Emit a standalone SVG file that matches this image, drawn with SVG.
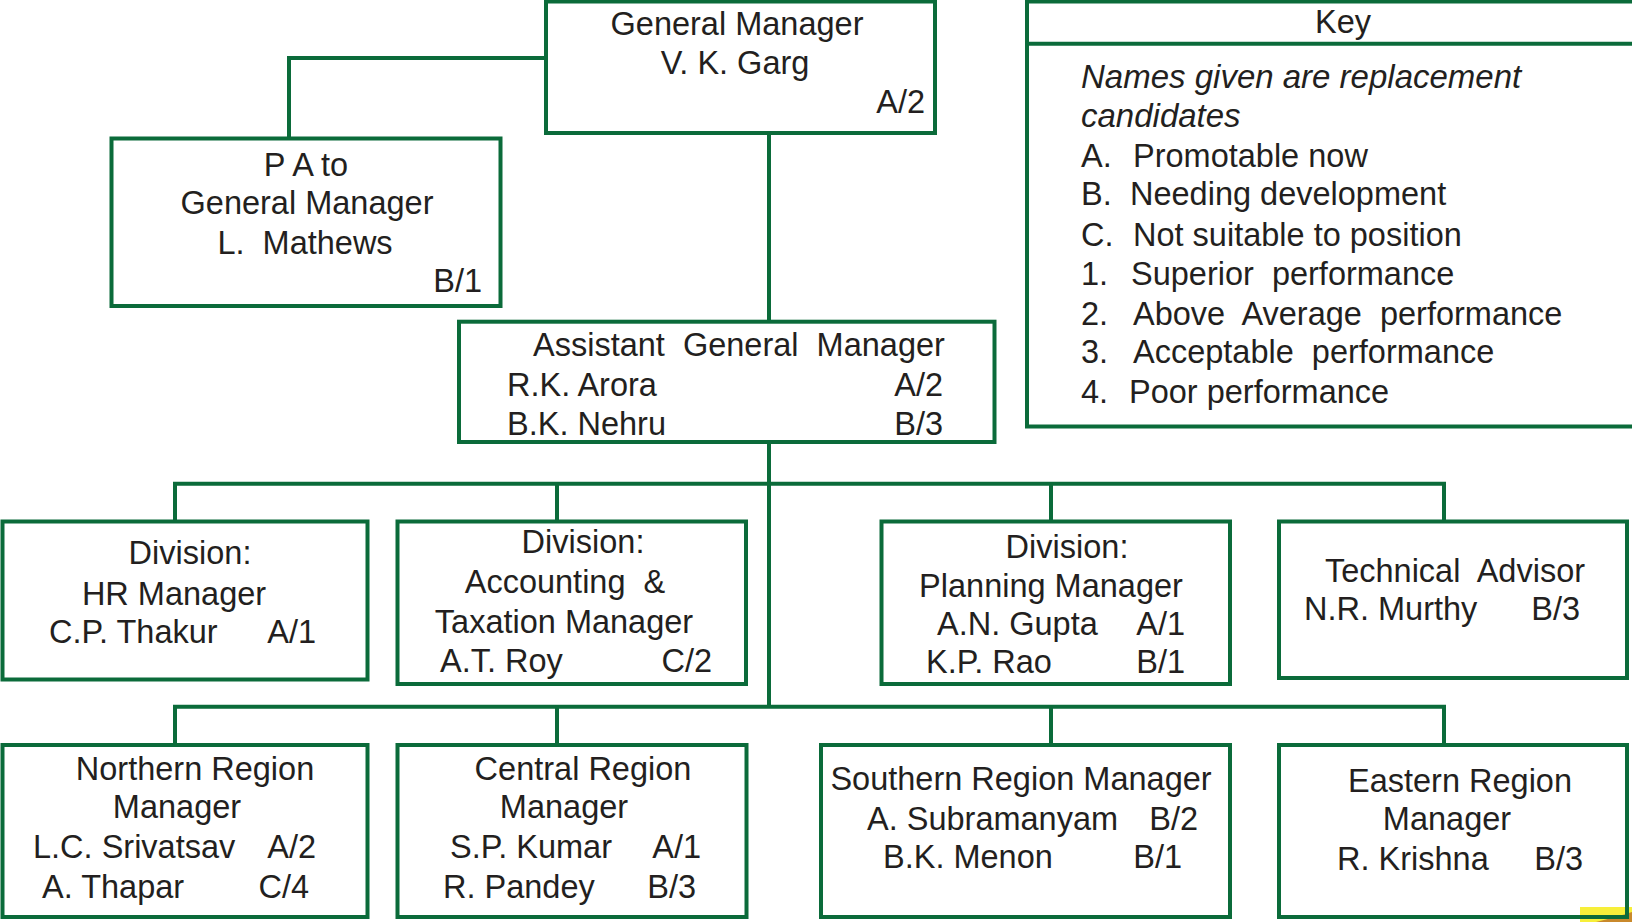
<svg xmlns="http://www.w3.org/2000/svg" width="1632" height="922" viewBox="0 0 1632 922">
<style>
.box{fill:none;stroke:#0b6b3a;stroke-width:4}
.ln{fill:none;stroke:#0b6b3a;stroke-width:4}
text{font-family:"Liberation Sans",Arial,sans-serif;font-size:32.5px;fill:#231f20}
.m{text-anchor:middle}
.e{text-anchor:end}
.i{font-style:italic;font-size:33px}
</style>
<rect x="0" y="0" width="1632" height="922" fill="#ffffff"/>
<g id="decor">
<rect x="1580" y="907" width="52" height="15" fill="#f7ef3a"/>
<path d="M1596,922 Q1620,916 1632,912 L1632,922 Z" fill="#c9892c"/>
</g>
<g id="connectors">
<path class="ln" d="M289,138.5 V58 H546"/>
<path class="ln" d="M769,133 V321.7"/>
<path class="ln" d="M769,442 V706.7"/>
<path class="ln" d="M175,521.5 V483.7 H1444 V521.5"/>
<path class="ln" d="M557,483.7 V521.5 M1051,483.7 V521.5"/>
<path class="ln" d="M175,745 V706.7 H1444 V745"/>
<path class="ln" d="M557,706.7 V745 M1051,706.7 V745"/>
</g>
<g id="gm">
<rect class="box" x="546" y="1.5" width="389" height="131.5"/>
<text class="m" x="737" y="35">General Manager</text>
<text class="m" x="735" y="74">V. K. Garg</text>
<text class="e" x="925" y="113">A/2</text>
</g>
<g id="pa">
<rect class="box" x="111.5" y="138.5" width="389" height="167.5"/>
<text class="m" x="306" y="176">P A to</text>
<text class="m" x="307" y="214">General Manager</text>
<text class="m" x="305" y="254">L.&#160; Mathews</text>
<text class="e" x="482" y="292">B/1</text>
</g>
<g id="key">
<rect class="box" x="1027" y="1.5" width="620" height="425"/>
<path class="ln" d="M1027,43.7 H1640"/>
<text class="m" x="1343" y="33">Key</text>
<text class="i" x="1081" y="88">Names given are replacement</text>
<text class="i" x="1081" y="127">candidates</text>
<text x="1081" y="167">A.</text><text x="1133" y="167">Promotable now</text>
<text x="1081" y="205">B.</text><text x="1130" y="205">Needing development</text>
<text x="1081" y="246">C.</text><text x="1133" y="246">Not suitable to position</text>
<text x="1081" y="285">1.</text><text x="1131" y="285">Superior&#160; performance</text>
<text x="1081" y="325">2.</text><text x="1133" y="325">Above&#160; Average&#160; performance</text>
<text x="1081" y="363">3.</text><text x="1133" y="363">Acceptable&#160; performance</text>
<text x="1081" y="403">4.</text><text x="1129" y="403">Poor&#160;performance</text>
</g>
<g id="agm">
<rect class="box" x="459" y="321.7" width="535.5" height="120.3"/>
<text x="533" y="356">Assistant&#160; General&#160; Manager</text>
<text x="507" y="396">R.K. Arora</text>
<text class="e" x="943" y="396">A/2</text>
<text x="507" y="435">B.K. Nehru</text>
<text class="e" x="943" y="435">B/3</text>
</g>
<g id="hr">
<rect class="box" x="2.5" y="521.5" width="365" height="158"/>
<text class="m" x="190" y="564">Division:</text>
<text class="m" x="174" y="605">HR Manager</text>
<text x="49" y="643">C.P. Thakur</text>
<text class="e" x="316" y="643">A/1</text>
</g>
<g id="accounting">
<rect class="box" x="397.5" y="521.5" width="348.5" height="162.5"/>
<text class="m" x="583" y="553">Division:</text>
<text class="m" x="565" y="593">Accounting&#160; &amp;</text>
<text class="m" x="564" y="633">Taxation Manager</text>
<text x="440" y="672">A.T. Roy</text>
<text class="e" x="712" y="672">C/2</text>
</g>
<g id="planning">
<rect class="box" x="881.5" y="521.5" width="348.5" height="162.5"/>
<text class="m" x="1067" y="558">Division:</text>
<text class="m" x="1051" y="597">Planning Manager</text>
<text x="937" y="635">A.N. Gupta</text>
<text class="e" x="1185" y="635">A/1</text>
<text x="926" y="673">K.P. Rao</text>
<text class="e" x="1185" y="673">B/1</text>
</g>
<g id="technical">
<rect class="box" x="1279" y="521.5" width="348" height="156.5"/>
<text class="m" x="1455" y="582">Technical&#160; Advisor</text>
<text x="1304" y="620">N.R. Murthy</text>
<text class="e" x="1580" y="620">B/3</text>
</g>
<g id="northern">
<rect class="box" x="2.5" y="745" width="365" height="172"/>
<text class="m" x="195" y="780">Northern Region</text>
<text class="m" x="177" y="818">Manager</text>
<text x="33" y="858">L.C. Srivatsav</text>
<text class="e" x="316" y="858">A/2</text>
<text x="42" y="898">A. Thapar</text>
<text class="e" x="309" y="898">C/4</text>
</g>
<g id="central">
<rect class="box" x="397.5" y="745" width="349" height="172"/>
<text class="m" x="583" y="780">Central Region</text>
<text class="m" x="564" y="818">Manager</text>
<text x="450" y="858">S.P. Kumar</text>
<text class="e" x="701" y="858">A/1</text>
<text x="443" y="898">R. Pandey</text>
<text class="e" x="696" y="898">B/3</text>
</g>
<g id="southern">
<rect class="box" x="821" y="745" width="409" height="172"/>
<text class="m" x="1021" y="790">Southern Region Manager</text>
<text x="867" y="830">A. Subramanyam</text>
<text class="e" x="1198" y="830">B/2</text>
<text x="883" y="868">B.K. Menon</text>
<text class="e" x="1182" y="868">B/1</text>
</g>
<g id="eastern">
<rect class="box" x="1279" y="745" width="348" height="172"/>
<text class="m" x="1460" y="792">Eastern Region</text>
<text class="m" x="1447" y="830">Manager</text>
<text x="1337" y="870">R. Krishna</text>
<text class="e" x="1583" y="870">B/3</text>
</g>
</svg>
